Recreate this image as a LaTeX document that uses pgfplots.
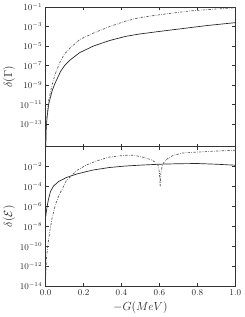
\documentclass[border=0pt]{standalone}
\usepackage{pgfplots}
\pgfplotsset{compat=1.18}
\tikzset{
  solidc/.style={black!85, line width=0.7pt},
  dashdotc/.style={black!65, line width=0.7pt, dash pattern=on 2.4pt off 1.4pt on 0.6pt off 1.4pt},
}
\begin{document}
\begin{tikzpicture}
\begin{axis}[name=top,
  scale only axis, width=193bp, height=142bp,
  ymode=log, xmin=0, xmax=1,
  xtick={0,0.2,0.4,0.6,0.8,1.0},
  tick align=inside, major tick length=3bp,
  yminorticks=false, xminorticks=false,
  axis line style={black!80, line width=0.5pt},
  tick style={black!80, line width=0.5pt},
  tick label style={font=\fontsize{9}{10}\selectfont, black!85},
  label style={font=\fontsize{12}{14}\selectfont, black!85},
  ymin=5e-16, ymax=1e-1,
  ytick={1e-1,1e-3,1e-5,1e-7,1e-9,1e-11,1e-13},
  xticklabels={},
  ylabel={$\delta(\Gamma)$}, ylabel shift=-2bp]
\addplot[solidc] coordinates {
(0.0005,5.01e-16) (0.003,3.16e-14) (0.008,6.31e-13) (0.017,1.26e-11) (0.034,2.51e-10)
(0.05,1.58e-9) (0.079,2.51e-8) (0.1,1e-7) (0.131,3.98e-7) (0.18,2.14e-6) (0.252,1e-5)
(0.338,3.72e-5) (0.424,1e-4) (0.493,1.70e-4) (0.6,3.16e-4) (0.725,6.31e-4)
(0.85,1.26e-3) (1.0,2.51e-3)};
\addplot[dashdotc] coordinates {
(0.001,5.01e-16) (0.004,1e-13) (0.008,1e-12) (0.017,3.16e-11) (0.034,1e-9)
(0.05,1.26e-8) (0.079,3.16e-7) (0.1,1.58e-6) (0.131,6.76e-6) (0.18,4.68e-5) (0.252,2.14e-4)
(0.338,1e-3) (0.424,3.72e-3) (0.493,7.94e-3) (0.585,1.48e-2) (0.76,3.98e-2)
(0.9,6.31e-2) (1.0,8.51e-2)};
\end{axis}
\begin{axis}[at={(top.south west)}, anchor=north west,
  scale only axis, width=193bp, height=142bp,
  ymode=log, xmin=0, xmax=1,
  xtick={0,0.2,0.4,0.6,0.8,1.0},
  tick align=inside, major tick length=3bp,
  yminorticks=false, xminorticks=false,
  axis line style={black!80, line width=0.5pt},
  tick style={black!80, line width=0.5pt},
  tick label style={font=\fontsize{9}{10}\selectfont, black!85},
  label style={font=\fontsize{12}{14}\selectfont, black!85},
  xticklabel style={/pgf/number format/fixed, /pgf/number format/fixed zerofill, /pgf/number format/precision=1},
  ymin=1e-14, ymax=1,
  ytick={1e-2,1e-4,1e-6,1e-8,1e-10,1e-12,1e-14},
  xlabel={$-G(MeV)$},
  ylabel={$\delta(\mathcal{E})$}, ylabel shift=-2bp]
\addplot[solidc] coordinates {
(0.001,1e-7) (0.004,3.16e-7) (0.009,1.26e-6) (0.015,5.01e-6) (0.026,3.16e-5)
(0.042,1.12e-4) (0.069,3.16e-4) (0.11,7.94e-4) (0.164,1.78e-3) (0.25,4.47e-3)
(0.336,7.94e-3) (0.42,1.12e-2) (0.51,1.41e-2) (0.6,1.70e-2) (0.7,1.91e-2)
(0.8,2.0e-2) (0.9,1.70e-2) (1.0,1.35e-2)};
\addplot[dashdotc] coordinates {
(0.001,1e-13) (0.005,1e-11) (0.012,1.26e-10) (0.022,3.16e-9) (0.034,6.31e-8)
(0.052,1.58e-6) (0.07,1.26e-5) (0.11,3.98e-4) (0.164,3.98e-3) (0.215,1.41e-2)
(0.267,3.55e-2) (0.336,8.91e-2) (0.42,0.135) (0.47,0.132)
(0.52,7.94e-2) (0.56,4.47e-2) (0.58,2.51e-2) (0.593,1.26e-2) (0.6,2.51e-3)
(0.604,1e-4) (0.608,2.51e-3) (0.615,1.26e-2) (0.625,2.82e-2) (0.64,5.62e-2)
(0.67,0.126) (0.72,0.224) (0.8,0.282) (0.9,0.355) (1.0,0.427)};
\end{axis}
\end{tikzpicture}
\end{document}
